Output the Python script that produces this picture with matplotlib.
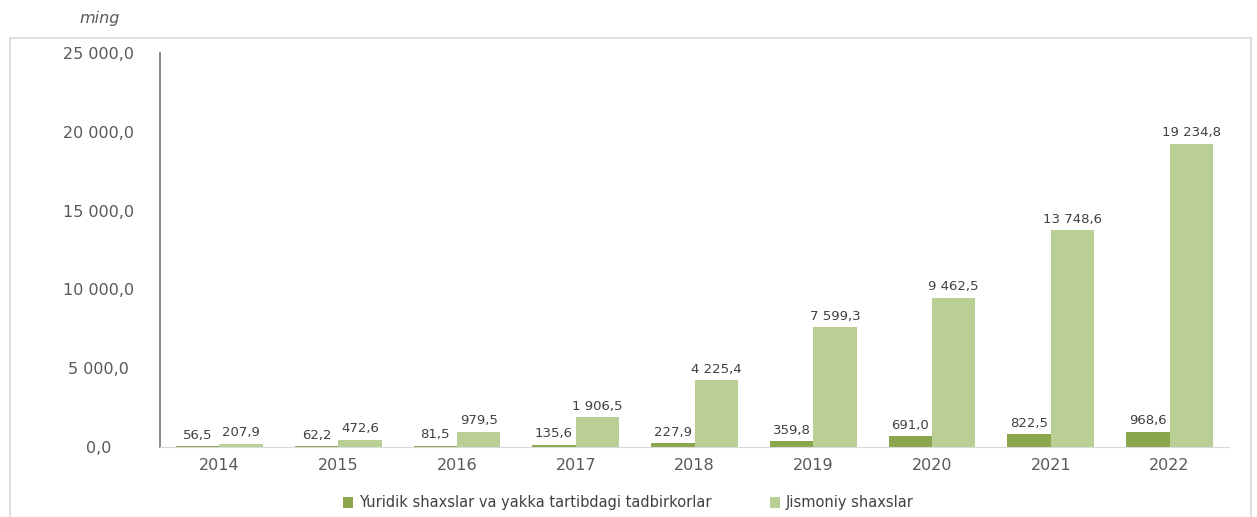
import matplotlib.pyplot as plt
import numpy as np
from matplotlib.patches import Rectangle

years = ['2014', '2015', '2016', '2017', '2018', '2019', '2020', '2021', '2022']
yuridik = [56.5, 62.2, 81.5, 135.6, 227.9, 359.8, 691.0, 822.5, 968.6]
jismoniy = [207.9, 472.6, 979.5, 1906.5, 4225.4, 7599.3, 9462.5, 13748.6, 19234.8]
labels = ['Yuridik shaxslar va yakka tartibdagi tadbirkorlar', 'Jismoniy shaxslar']

dark_green = '#8BA74E'
light_green = '#BACF96'
text_col = '#404040'


def fmt(v):
    s = f'{v:,.1f}'
    return s.replace(',', ' ').replace('.', ',')


fig = plt.figure(figsize=(12.57, 5.17), dpi=100)
fig.patches.append(Rectangle((10 / 1257, -0.01), 1241 / 1257, 1 - 38 / 517 + 0.01,
                             transform=fig.transFigure, fill=False,
                             edgecolor='#d9d9d9', linewidth=1.2))
ax = fig.add_axes([160 / 1257, 70 / 517, 1069 / 1257, 394 / 517])

x = np.arange(len(years))
w = 0.365
ax.bar(x - w / 2, yuridik, w, color=dark_green, label=labels[0])
ax.bar(x + w / 2, jismoniy, w, color=light_green, label=labels[1])

for i in range(len(years)):
    ax.text(x[i] - w / 2, yuridik[i] + 280, fmt(yuridik[i]), ha='center', va='bottom',
            fontsize=9.5, color=text_col)
    ax.text(x[i] + w / 2, jismoniy[i] + 280, fmt(jismoniy[i]), ha='center', va='bottom',
            fontsize=9.5, color=text_col)

ax.set_xlim(-0.5, len(years) - 0.5)
ax.set_ylim(0, 25000)
ax.set_yticks(np.arange(0, 25001, 5000))
ax.set_yticklabels([fmt(v) for v in np.arange(0, 25001, 5000)], ha='center')
ax.set_xticks(x)
ax.set_xticklabels(years)
ax.tick_params(axis='both', length=0, labelsize=11.5, colors='#595959')
ax.tick_params(axis='y', pad=44)
ax.tick_params(axis='x', pad=8)

for s in ['top', 'right']:
    ax.spines[s].set_visible(False)
ax.spines['left'].set_color('#7f7f7f')
ax.spines['left'].set_linewidth(1.3)
ax.spines['bottom'].set_color('#d9d9d9')

fig.text(100 / 1257, 1 - 18 / 517, 'ming', style='italic', fontsize=11.5,
         color='#595959', ha='center', va='center')

fig.legend(loc='center', bbox_to_anchor=(0.5, 1 - 503 / 517), ncol=2, frameon=False,
           fontsize=10.5, handlelength=0.7, handleheight=0.7, columnspacing=4,
           handletextpad=0.4, labelcolor=text_col)

fig.savefig('out.png', dpi=100)
